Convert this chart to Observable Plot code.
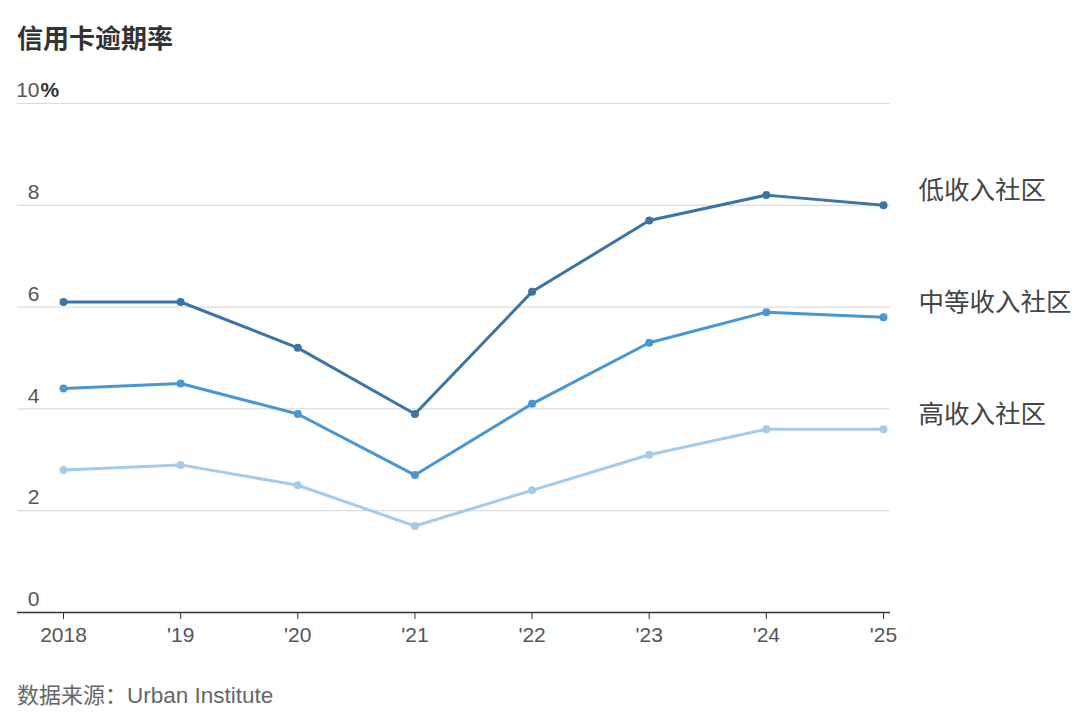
<!DOCTYPE html>
<html>
<head>
<meta charset="utf-8">
<script src="https://cdn.jsdelivr.net/npm/d3@7"></script>
<script src="https://cdn.jsdelivr.net/npm/@observablehq/plot@0.6"></script>
<style>
  html, body { margin: 0; padding: 0; background: #fff; }
  body { width: 1080px; height: 725px; position: relative; overflow: hidden;
         font-family: "Liberation Sans", "Noto Sans CJK SC", sans-serif; }
  #title { position: absolute; left: 17px; top: 21px; font-size: 26px; line-height: 32px;
           font-family: "Noto Sans CJK SC", sans-serif; font-weight: bold; color: #333; }
  #chart { position: absolute; left: 0; top: 70px; }
  #source { position: absolute; left: 17px; top: 678px; font-size: 22.5px; line-height: 30px; color: #666; }
  #source .cjk { font-family: "Noto Sans CJK SC", sans-serif; font-size: 22px; }
</style>
</head>
<body>
<div id="title">信用卡逾期率</div>
<div id="chart"></div>
<div id="source"><span class="cjk">数据来源：</span>Urban Institute</div>
<script>
const years = [2018, 2019, 2020, 2021, 2022, 2023, 2024, 2025];
const xTickLabels = ["2018", "'19", "'20", "'21", "'22", "'23", "'24", "'25"];
const lowIncome  = [6.1, 6.1, 5.2, 3.9, 6.3, 7.7, 8.2, 8.0];
const midIncome  = [4.4, 4.5, 3.9, 2.7, 4.1, 5.3, 5.9, 5.8];
const highIncome = [2.8, 2.9, 2.5, 1.7, 2.4, 3.1, 3.6, 3.6];
const seriesNames = ["低收入社区", "中等收入社区", "高收入社区"];
const seriesColors = ["#3a75a6", "#4896d2", "#a5cbe8"];
const yTicks = [0, 2, 4, 6, 8, 10];

const seriesValues = [lowIncome, midIncome, highIncome];
const data = [];
seriesNames.forEach((name, i) => {
  years.forEach((yr, j) => data.push({series: name, year: yr, value: seriesValues[i][j]}));
});
// draw lighter series first
const drawOrder = [...data].reverse();

const numFont = '"Liberation Sans", "Noto Sans CJK SC", sans-serif';

const chart = Plot.plot({
  width: 1080,
  height: 590,
  marginLeft: 17,
  marginRight: 190,
  marginTop: 33,
  marginBottom: 48,
  style: {fontFamily: numFont, fontSize: "20px", color: "#555", background: "#fff"},
  x: {type: "linear", domain: [2018, 2025], insetLeft: 46, insetRight: 7},
  y: {domain: [0, 10]},
  color: {domain: seriesNames, range: seriesColors},
  marks: [
    Plot.ruleY(yTicks.filter(d => d > 0), {stroke: "#dcdcdc", strokeWidth: 1.2}),
    Plot.axisY({ticks: yTicks, tickSize: 0, anchor: "left", textAnchor: "end", dx: 31, dy: -13,
                label: null, fill: "#555", fontSize: 21}),
    Plot.text([10], {y: d => d, frameAnchor: "left", text: () => "%", dx: 23, dy: -13,
                     textAnchor: "start", fontWeight: "bold", fill: "#333", fontSize: 21}),
    Plot.ruleY([0], {stroke: "#333", strokeWidth: 1.5}),
    Plot.axisX({ticks: years, tickFormat: d => xTickLabels[years.indexOf(d)], tickSize: 7,
                tickPadding: 8, label: null, stroke: "#333", fill: "#555", fontSize: 21}),
    Plot.line(drawOrder, {x: "year", y: "value", z: "series", stroke: "series", strokeWidth: 3}),
    Plot.dot(drawOrder, {x: "year", y: "value", fill: "series", r: 4}),
    Plot.text(data, Plot.selectLast({x: "year", y: "value", z: "series", text: "series",
              textAnchor: "start", dx: 35, dy: -14, fill: "#444", fontSize: 25.5,
              fontFamily: '"Noto Sans CJK SC", sans-serif'}))
  ]
});
document.getElementById("chart").appendChild(chart);
</script>
</body>
</html>
